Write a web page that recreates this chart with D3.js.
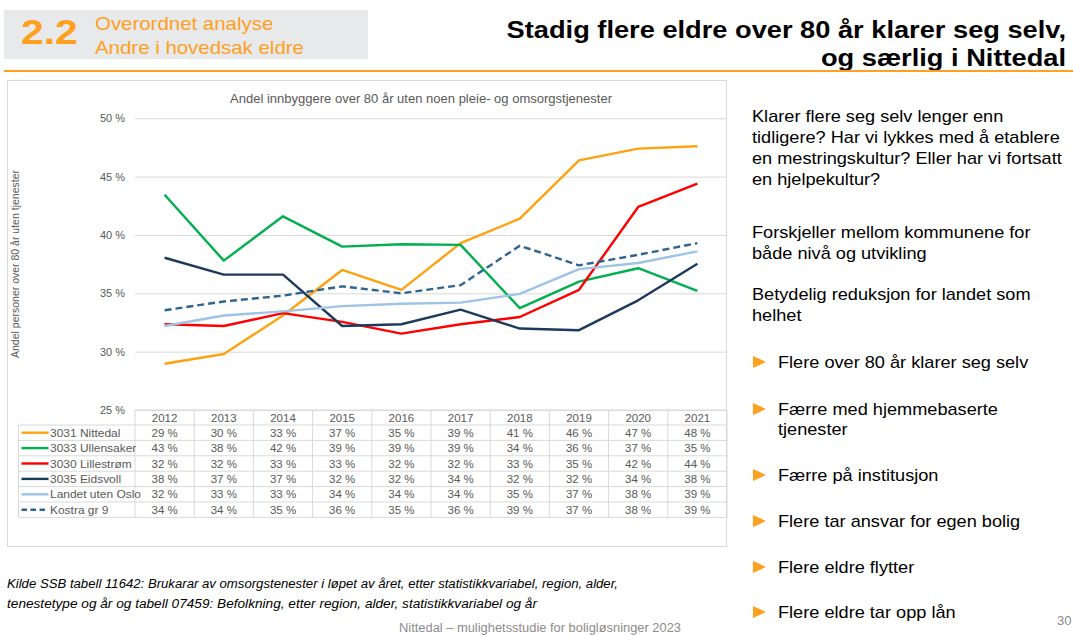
<!DOCTYPE html>
<html>
<head>
<meta charset="utf-8">
<script src="https://cdn.jsdelivr.net/npm/d3@7"></script>
<style>
  body { margin: 0; background: #fff; }
  svg { display: block; font-family: "Liberation Sans", Arial, sans-serif; }
</style>
</head>
<body>
<svg id="slide" width="1073" height="635"></svg>
<script>
// data
const years = [2012, 2013, 2014, 2015, 2016, 2017, 2018, 2019, 2020, 2021];
const seriesNames = ["3031 Nittedal", "3033 Ullensaker", "3030 Lillestrøm", "3035 Eidsvoll", "Landet uten Oslo", "Kostra gr 9"];
const nittedal   = [28.96, 29.8, 33.1, 37.0, 35.3, 39.3, 41.4, 46.4, 47.4, 47.6];
const ullensaker = [43.45, 37.8, 41.6, 39.0, 39.2, 39.15, 33.73, 36.0, 37.15, 35.2];
const lillestrom = [32.35, 32.2, 33.3, 32.55, 31.55, 32.35, 32.97, 35.3, 42.4, 44.4];
const eidsvoll   = [38.05, 36.6, 36.6, 32.2, 32.35, 33.6, 31.98, 31.84, 34.4, 37.54];
const landet     = [32.2, 33.1, 33.45, 33.9, 34.1, 34.2, 34.95, 37.07, 37.6, 38.6];
const kostra     = [33.55, 34.3, 34.8, 35.6, 35.0, 35.7, 39.08, 37.4, 38.3, 39.3];
const yTicks = [25, 30, 35, 40, 45, 50];

const seriesValues = [nittedal, ullensaker, lillestrom, eidsvoll, landet, kostra];
const colors = ["#ffa20f", "#00b04f", "#ff0000", "#1c3a5c", "#9dc3e6", "#2e6590"];
const dashes = [null, null, null, null, null, "7,4"];

const series = seriesNames.map((name, i) => ({
  name: name,
  color: colors[i],
  dash: dashes[i],
  values: years.map((y, j) => ({ year: y, value: seriesValues[i][j] }))
}));

const orange = "#ffa01e";
const grey = "#595959";
const gridColor = "#d9d9d9";
const sx = 1.135; // slide text is a bit wider than plain Arial

const svg = d3.select("#slide");

// text placed at (x,y) and stretched horizontally
function wideText(parent, x, y, str, k) {
  return parent.append("text")
    .attr("transform", `translate(${x},${y}) scale(${k || sx},1)`)
    .text(str);
}

// ---- header ----
svg.append("rect").attr("x", 4).attr("y", 10).attr("width", 364).attr("height", 49).attr("fill", "#e8e9eb");
wideText(svg, 21, 44, "2.2").attr("fill", orange)
  .style("font-size", "36px").style("font-weight", "bold");
wideText(svg, 95, 30, "Overordnet analyse").attr("fill", orange).style("font-size", "18px");
wideText(svg, 95, 54, "Andre i hovedsak eldre").attr("fill", orange).style("font-size", "18px");

wideText(svg, 1066, 38, "Stadig flere eldre over 80 år klarer seg selv,")
  .attr("text-anchor", "end").style("font-size", "24px").style("font-weight", "bold").attr("fill", "#000");
wideText(svg, 1066, 66, "og særlig i Nittedal")
  .attr("text-anchor", "end").style("font-size", "24px").style("font-weight", "bold").attr("fill", "#000");

svg.append("rect").attr("x", 4).attr("y", 70).attr("width", 1069).attr("height", 2).attr("fill", orange);

// ---- chart box ----
svg.append("rect").attr("x", 7.5).attr("y", 80.5).attr("width", 719).attr("height", 466)
  .attr("fill", "#fff").attr("stroke", gridColor);

const left = 135, right = 727;
const x = d3.scaleBand().domain(years).range([left, right]);
const y = d3.scaleLinear().domain([25, 50]).range([410, 118.3]);

wideText(svg, 421, 103, "Andel innbyggere over 80 år uten noen pleie- og omsorgstjenester", 1.085)
  .attr("text-anchor", "middle").attr("fill", grey).style("font-size", "12px");

const yAxis = svg.append("g").attr("transform", `translate(${left},0)`)
  .call(d3.axisLeft(y).tickValues(yTicks).tickSizeInner(-(right - left)).tickSizeOuter(0)
    .tickPadding(10).tickFormat(d => d + " %"));
yAxis.select(".domain").remove();
yAxis.selectAll(".tick line").attr("stroke", gridColor);
yAxis.selectAll(".tick text").attr("fill", grey).style("font-size", "11px")
  .style("font-family", "'Liberation Sans', Arial, sans-serif");

svg.append("text").attr("transform", "translate(19,264) rotate(-90)")
  .attr("text-anchor", "middle").attr("fill", grey).style("font-size", "10.5px")
  .text("Andel personer over 80 år uten tjenester");

// ---- lines ----
const line = d3.line()
  .x(d => x(d.year) + x.bandwidth() / 2)
  .y(d => y(d.value));

svg.append("g").selectAll("path")
  .data(series)
  .join("path")
  .attr("d", d => line(d.values))
  .attr("fill", "none")
  .attr("stroke", d => d.color)
  .attr("stroke-width", 2.4)
  .attr("stroke-dasharray", d => d.dash)
  .attr("stroke-linejoin", "round");

// ---- data table ----
const tableTop = 410, headH = 15, rowH = 15.4, legendLeft = 18.5;
const tableBottom = tableTop + headH + rowH * series.length;
const table = svg.append("g");

// horizontal rules
table.append("line").attr("x1", left).attr("x2", right).attr("y1", tableTop).attr("y2", tableTop)
  .attr("stroke", gridColor);
table.selectAll(".hrow")
  .data(d3.range(series.length + 1))
  .join("line")
  .attr("x1", legendLeft).attr("x2", right)
  .attr("y1", i => tableTop + headH + i * rowH)
  .attr("y2", i => tableTop + headH + i * rowH)
  .attr("stroke", gridColor);
// vertical rules
table.selectAll(".vcol")
  .data(years.concat(["end"]))
  .join("line")
  .attr("x1", (d, i) => i < years.length ? x(d) : right)
  .attr("x2", (d, i) => i < years.length ? x(d) : right)
  .attr("y1", tableTop).attr("y2", tableBottom)
  .attr("stroke", gridColor);
table.append("line").attr("x1", legendLeft).attr("x2", legendLeft)
  .attr("y1", tableTop + headH).attr("y2", tableBottom).attr("stroke", gridColor);

table.selectAll(".yr")
  .data(years)
  .join("text")
  .attr("x", d => x(d) + x.bandwidth() / 2)
  .attr("y", tableTop + headH / 2 + 4)
  .attr("text-anchor", "middle")
  .attr("fill", grey).style("font-size", "11.5px")
  .text(d => d);

const rows = table.selectAll(".row")
  .data(series)
  .join("g")
  .attr("transform", (d, i) => `translate(0,${tableTop + headH + i * rowH + rowH / 2})`);

rows.append("line")
  .attr("x1", 21.5).attr("x2", 48.5).attr("y1", 0).attr("y2", 0)
  .attr("stroke", d => d.color).attr("stroke-width", 2.4)
  .attr("stroke-dasharray", d => d.dash ? "5.5,3.5" : null);
rows.append("text")
  .attr("transform", "translate(50,4) scale(1.04,1)")
  .attr("fill", grey).style("font-size", "11.5px")
  .text(d => d.name);
rows.selectAll(".val")
  .data(d => d.values)
  .join("text")
  .attr("x", d => x(d.year) + x.bandwidth() / 2)
  .attr("y", 4)
  .attr("text-anchor", "middle")
  .attr("fill", grey).style("font-size", "11.5px")
  .text(d => Math.round(d.value) + " %");

// ---- right column text ----
const para = [
  { y: 122, t: "Klarer flere seg selv lenger enn" },
  { y: 143, t: "tidligere? Har vi lykkes med å etablere" },
  { y: 164, t: "en mestringskultur? Eller har vi fortsatt" },
  { y: 185, t: "en hjelpekultur?" },
  { y: 238, t: "Forskjeller mellom kommunene for" },
  { y: 259, t: "både nivå og utvikling" },
  { y: 300, t: "Betydelig reduksjon for landet som" },
  { y: 321, t: "helhet" }
];
const paraG = svg.append("g");
para.forEach(p => {
  wideText(paraG, 752, p.y, p.t).attr("fill", "#000").style("font-size", "16px");
});

const bullets = [
  { y: 368, lines: ["Flere over 80 år klarer seg selv"] },
  { y: 415, lines: ["Færre med hjemmebaserte", "tjenester"] },
  { y: 481, lines: ["Færre på institusjon"] },
  { y: 527, lines: ["Flere tar ansvar for egen bolig"] },
  { y: 573, lines: ["Flere eldre flytter"] },
  { y: 618, lines: ["Flere eldre tar opp lån"] }
];
const bulletG = svg.append("g");
bullets.forEach(d => {
  bulletG.append("path")
    .attr("d", `M753,${d.y - 12} L766,${d.y - 6} L753,${d.y} Z`)
    .attr("fill", orange);
  d.lines.forEach((t, i) => {
    wideText(bulletG, 778, d.y + i * 20, t).attr("fill", "#000").style("font-size", "16px");
  });
});

// ---- footer ----
svg.append("text").attr("x", 7).attr("y", 588)
  .attr("textLength", 611).attr("lengthAdjust", "spacingAndGlyphs")
  .style("font-size", "12.5px").style("font-style", "italic").attr("fill", "#000")
  .text("Kilde SSB tabell 11642: Brukarar av omsorgstenester i løpet av året, etter statistikkvariabel, region, alder,");
svg.append("text").attr("x", 7).attr("y", 608)
  .attr("textLength", 530).attr("lengthAdjust", "spacingAndGlyphs")
  .style("font-size", "12.5px").style("font-style", "italic").attr("fill", "#000")
  .text("tenestetype og år og tabell 07459: Befolkning, etter region, alder, statistikkvariabel og år");
svg.append("text").attr("x", 399).attr("y", 632)
  .attr("textLength", 282).attr("lengthAdjust", "spacingAndGlyphs")
  .style("font-size", "12.5px").attr("fill", "#8c8c8c")
  .text("Nittedal – mulighetsstudie for boligløsninger 2023");
svg.append("text").attr("x", 1057).attr("y", 625)
  .style("font-size", "13px").attr("fill", "#8c8c8c").text("30");
</script>
</body>
</html>
